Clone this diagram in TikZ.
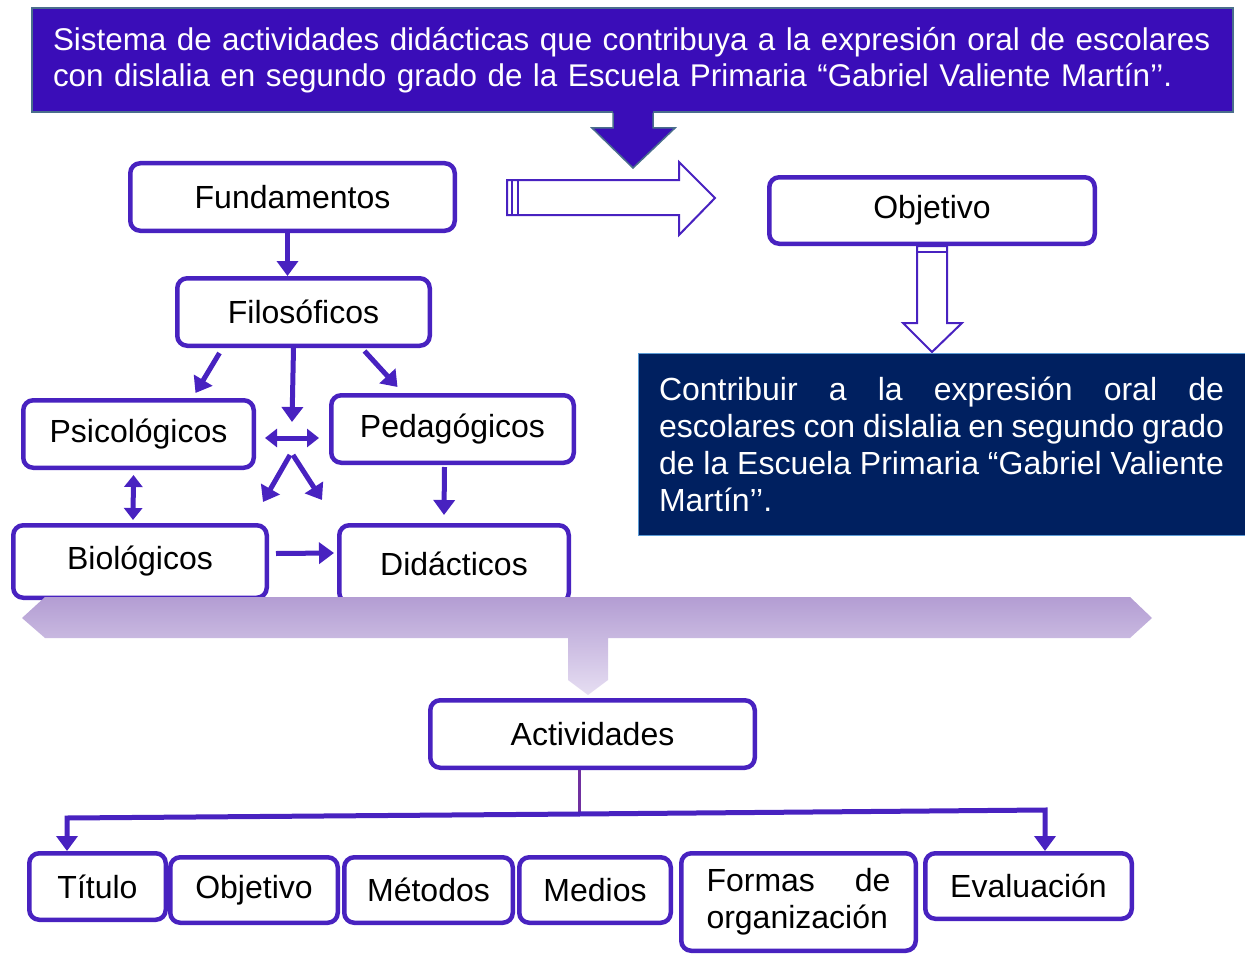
\documentclass[tikz,border=0pt]{standalone}
\usepackage{fontspec}
\setmainfont{Liberation Sans}
\usepackage{pgf,tikz}
\usetikzlibrary{arrows.meta}
\definecolor{morado}{HTML}{4822C0}
\definecolor{azulTit}{HTML}{3A0DB8}
\definecolor{bordeTit}{HTML}{4A6E8C}
\definecolor{marino}{HTML}{002060}
\definecolor{bordeMar}{HTML}{5B9BD5}
\definecolor{lila}{HTML}{B39DD3}
\definecolor{lilaclaro}{HTML}{E6DEF2}
\definecolor{violeta}{HTML}{7030A0}
\tikzstyle{caja} = [draw=morado, line width=4.5pt, rounded corners=10pt, fill=white, text=black, inner sep=0pt, font=\fontsize{32}{37}\selectfont]
\tikzstyle{encabezado} = [draw=bordeTit, line width=2pt, fill=azulTit, text=white, inner xsep=21pt, font=\fontsize{31.4}{36.5}\selectfont]
\tikzstyle{meta} = [draw=bordeMar, line width=1pt, fill=marino, text=white, inner xsep=21pt, font=\fontsize{32}{37}\selectfont]
\tikzstyle{flecha} = [draw=morado, line width=5pt, -{Triangle[length=15pt,width=21pt]}]
\tikzstyle{dobleflecha} = [draw=morado, line width=5pt, {Triangle[length=12pt,width=18pt]}-{Triangle[length=12pt,width=18pt]}]
\tikzstyle{hueca} = [draw=morado, line width=2pt, fill=white, line join=miter]

\begin{document}
\begin{tikzpicture}[x=1pt,y=-1pt]
	\useasboundingbox (0,0) rectangle (1245,955);

	\node[encabezado, minimum width=1201pt, minimum height=104pt, text width=1159pt, align=left] (tit) at (632.5,60) {\hbox{Sistema de actividades didácticas que contribuya a la expresión oral de escolares}\\con dislalia en segundo grado de la Escuela Primaria “Gabriel Valiente Martín’’.};
	\fill[azulTit] (613,108) -- (613,128) -- (592,128) -- (633,168) -- (675,128) -- (653,128) -- (653,108) -- cycle;
	\draw[bordeTit, line width=1.5pt] (613,113) -- (613,128) -- (592,128) -- (633,168) -- (675,128) -- (653,128) -- (653,113);

	\node[caja, minimum width=324.5pt, minimum height=67.5pt] (fund) at (292.5,197) {Fundamentos};
	\node[caja, minimum width=325.5pt, minimum height=66.5pt] (obj) at (932,210.5) {Objetivo};
	\node[caja, minimum width=252.5pt, minimum height=67.5pt] (filo) at (303.5,312) {Filosóficos};
	\node[caja, minimum width=230.5pt, minimum height=67.5pt] (psico) at (138.5,434) {Psicológicos};
	\node[caja, minimum width=242.5pt, minimum height=67.5pt] (peda) at (452.5,429) {Pedagógicos};
	\node[caja, minimum width=253.5pt, minimum height=72.5pt] (bio) at (140,561.5) {Biológicos};
	\node[caja, minimum width=229.5pt, minimum height=77.5pt] (dida) at (454,564) {Didácticos};

	\draw[hueca] (507,180) -- (679,180) -- (679,162) -- (715,198) -- (679,235) -- (679,215) -- (507,215) -- cycle;
	\draw[morado, line width=2pt] (512,180) -- (512,215) (518,180) -- (518,215);

	\draw[hueca] ([xshift=-15pt]obj.south) -- ([xshift=-15pt]obj.south |- 0,323) -- (903,323) -- (932,352) -- (962,323) -- ([xshift=15pt]obj.south |- 0,323) -- ([xshift=15pt]obj.south) -- cycle;
	\draw[morado, line width=1.5pt] ([xshift=-15pt,yshift=-6pt]obj.south) -- ([xshift=15pt,yshift=-6pt]obj.south);

	\node[meta, minimum width=607pt, minimum height=182pt, text width=565pt, align=justify] (obj texto) at (941.5,444) {Contribuir a la expresión oral de\linebreak escolares con dislalia en segundo grado\linebreak de la Escuela Primaria “Gabriel Valiente\linebreak Martín’’.};

	\coordinate (nudo) at (292,438);
	\draw[flecha] ([xshift=-5pt]fund.south) -- ([xshift=-16pt]filo.north);
	\draw[flecha] ([xshift=-84pt,yshift=-5pt]filo.south) -- ([xshift=57pt,yshift=5pt]psico.north);
	\draw[flecha] ([xshift=-10pt]filo.south) -- ([yshift=16pt]nudo);
	\draw[flecha] ([xshift=61pt,yshift=-3pt]filo.south) -- ([xshift=-55pt,yshift=6pt]peda.north);
	\draw[dobleflecha] ([xshift=9pt,yshift=-4pt]psico.east) -- ([xshift=-10pt,yshift=-9pt]peda.west);
	\draw[flecha] ([xshift=-2pt,yshift=-17pt]nudo) -- ([xshift=-29pt,yshift=-64pt]nudo);
	\draw[flecha] ([xshift=1pt,yshift=-17pt]nudo) -- ([xshift=30pt,yshift=-62pt]nudo);
	\draw[dobleflecha] ([xshift=-5pt,yshift=-5pt]psico.south) -- ([xshift=-7pt,yshift=3pt]bio.north);
	\draw[flecha] ([xshift=-8pt,yshift=-2pt]peda.south) -- ([xshift=-10pt,yshift=8pt]dida.north);
	\draw[flecha] ([xshift=7pt,yshift=8pt]bio.east) -- ([xshift=-3pt,yshift=11pt]dida.west);

	\shade[top color=lila, bottom color=lilaclaro] (22,618) -- (45,597) -- (1130,597) -- (1152,618) -- (1130,638) -- (608,638) -- (608,680) -- (588,695) -- (568,680) -- (568,638) -- (45,638) -- cycle;

	\node[caja, minimum width=324.5pt, minimum height=67.5pt] (acti) at (592.5,734) {Actividades};
	\node[caja, minimum width=136.5pt, minimum height=66.5pt] (titulo) at (97.5,886.5) {Título};
	\node[caja, minimum width=167.5pt, minimum height=65.5pt] (obj2) at (254,890) {Objetivo};
	\node[caja, minimum width=168.5pt, minimum height=65.5pt] (meto) at (428.5,890) {Métodos};
	\node[caja, minimum width=151.5pt, minimum height=65.5pt] (medi) at (595,890) {Medios};
	\node[caja, minimum width=234.5pt, minimum height=97.5pt, text width=184pt, align=left] (formas) at (798.5,902) {Formas\hfill de\\organización};
	\node[caja, minimum width=206.5pt, minimum height=65.5pt] (eval) at (1028.5,886) {Evaluación};

	\coordinate (ramal) at (579,814);
	\draw[violeta, line width=3pt] ([xshift=-13.5pt]acti.south) -- (ramal);
	\draw[flecha] (ramal) -- ++(-512,4) -- ([xshift=-30.5pt]titulo.north);
	\draw[flecha] (ramal) -- ++(466,-4) -- ([xshift=16.5pt]eval.north);
\end{tikzpicture}
\end{document}
